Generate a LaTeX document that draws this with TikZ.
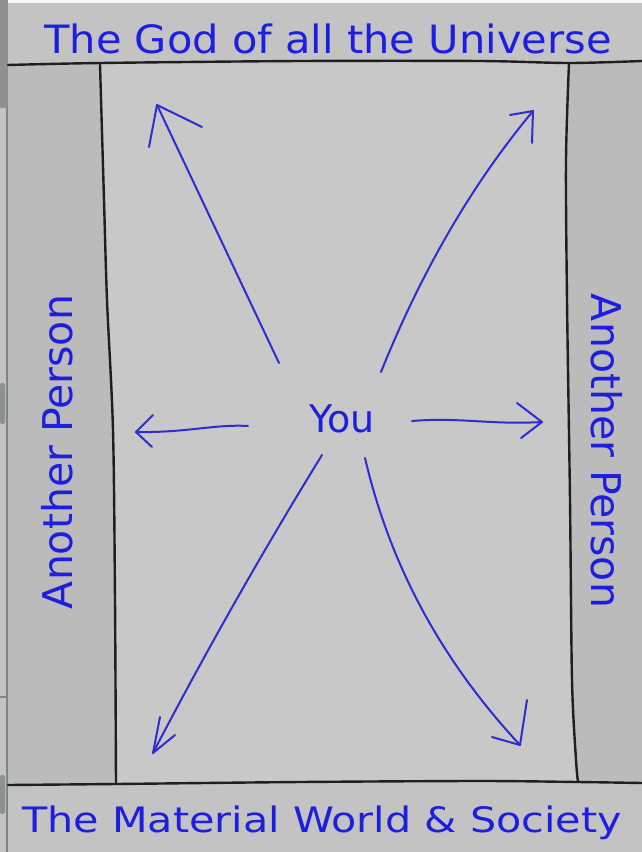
\documentclass[tikz,border=0pt]{standalone}
\usepackage{fontspec}
\setmainfont{DejaVu Sans}
\usepackage{tikz}
\usetikzlibrary{calc}

\definecolor{bandgray}{RGB}{195,195,195}
\definecolor{sidegray}{RGB}{187,187,187}
\definecolor{roomgray}{RGB}{200,200,200}
\definecolor{stripgray}{RGB}{140,145,140}
\definecolor{edgegray}{RGB}{125,135,125}
\definecolor{inkblue}{RGB}{30,30,225}
\definecolor{penblue}{RGB}{45,45,210}

\begin{document}
\begin{tikzpicture}[x=1pt, y=-1pt, line cap=round, line join=round,
    wall/.style={line width=2.4pt, black!88},
    pen/.style={line width=2pt, penblue},
    word/.style={text=inkblue, inner sep=0pt, anchor=base}]
    \useasboundingbox (0,0) rectangle (642,852);
    \fill[bandgray] (0,0) rectangle (642,852);

    % screenshot edge
    \fill[white!94!gray] (8,0) rectangle (642,3);
    \fill[stripgray] (0,0) rectangle (8,108);
    \draw[edgegray, line width=1.5pt] (7,108) -- (7,852);
    \fill[stripgray, rounded corners=2pt] (0,383) rectangle (5,424);
    \fill[stripgray, rounded corners=2pt] (0,775) rectangle (5,814);
    \draw[edgegray, line width=2pt] (0,697) -- (7,697);

    % panels
    \fill[sidegray] (8,65) -- (100,64) -- (104,200) -- (107,300) -- (113,430)
        -- (115,600) -- (116,784) -- (8,785) -- cycle;
    \fill[sidegray] (569,63) -- (642,61) -- (642,783) -- (578,782) -- (576,760)
        -- (572,680) -- (570,500) -- (567,300) -- (566,160) -- cycle;
    \fill[roomgray] (100,64) -- (569,63) -- (566,160) -- (567,300) -- (570,500)
        -- (572,680) -- (576,760) -- (578,782) -- (116,784) -- (115,600)
        -- (113,430) -- (107,300) -- (104,200) -- cycle;

    \draw[wall] plot[smooth] coordinates {(8,65) (100,63) (300,61) (480,61) (569,63) (642,61)};
    \draw[wall] plot[smooth] coordinates {(8,785) (116,784) (300,782) (480,781) (578,782) (642,783)};
    \draw[wall] plot[smooth] coordinates {(100,64) (104,200) (107,300) (113,430) (115,600) (116,784)};
    \draw[wall] plot[smooth] coordinates {(569,63) (566,160) (567,300) (570,500) (572,680) (576,760) (578,782)};

    % labels
    \node[word, font=\fontsize{39}{44}\selectfont, xscale=1.066] (god) at (328,53) {The God of all the Universe};
    \node[word, font=\fontsize{35}{40}\selectfont, xscale=1.18] (world) at (322,832) {The Material World \& Society};
    \node[word, font=\fontsize{41}{46}\selectfont, rotate=90] (left) at (72,452) {Another Person};
    \node[word, font=\fontsize{41}{46}\selectfont, rotate=-90] (right) at (591,451) {Another Person};
    \node[word, font=\fontsize{38}{42}\selectfont] (you) at (342,432) {You};

    % arrows out of You
    \coordinate (UL) at (279,363);  \coordinate (ULtip) at (157,105);
    \coordinate (UR) at (381,372);  \coordinate (URtip) at (533,111);
    \coordinate (L) at (248,426);   \coordinate (Ltip) at (136,432);
    \coordinate (R) at (412,421);   \coordinate (Rtip) at (542,422);
    \coordinate (DL) at (322,455);  \coordinate (DLtip) at (153,753);
    \coordinate (DR) at (365,458);  \coordinate (DRtip) at (520,745);

    \draw[pen] (UL) -- (ULtip);
    \draw[pen] (149,147) -- (ULtip) -- (202,127);
    \draw[pen] (UR) .. controls (422,270) and (473,183) .. (URtip);
    \draw[pen] (510,115) -- (URtip) -- (532,143);
    \draw[pen] (L) .. controls (215,424) and (185,433) .. (Ltip);
    \draw[pen] (153,415) -- (Ltip) -- (152,447);
    \draw[pen] (R) .. controls (460,417) and (490,425) .. (Rtip);
    \draw[pen] (517,403) -- (Rtip) -- (521,438);
    \draw[pen] (DL) .. controls (261,554) and (204,655) .. (DLtip);
    \draw[pen] (160,717) -- (DLtip) -- (175,735);
    \draw[pen] (DR) .. controls (390,565) and (441,660) .. (DRtip);
    \draw[pen] (527,700) -- (DRtip) -- (492,737);
\end{tikzpicture}
\end{document}
